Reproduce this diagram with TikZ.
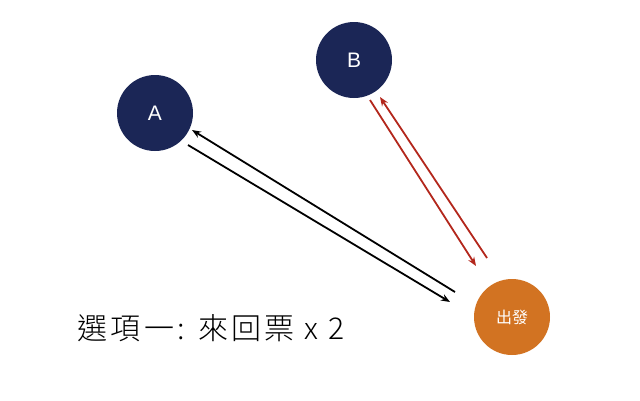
\documentclass[tikz,border=0pt]{standalone}
\usepackage{fontspec}
\setmainfont{Liberation Sans}
\newfontfamily\cjk[LetterSpace=11]{Noto Sans CJK TC Light}
\newfontfamily\cjkreg{Noto Sans CJK TC}
\usetikzlibrary{arrows.meta}
\definecolor{navy}{HTML}{1B2656}
\definecolor{amber}{HTML}{D27322}
\definecolor{brick}{HTML}{B3271C}
\begin{document}
\begin{tikzpicture}[x=1pt,y=-1pt,
dot/.style={circle, minimum size=76pt, inner sep=0pt, text=white, font=\fontsize{21}{24}\selectfont},
link/.style={line width=1.8pt, -{Stealth[length=9pt,width=7pt]}},
]
\useasboundingbox (0,0) rectangle (640,400);

\node[dot, fill=navy] (a) at (155,113) {A};
\node[dot, fill=navy] (b) at (354,60) {B};
\node[dot, fill=amber, font=\cjkreg\fontsize{16}{18}\selectfont] (go) at (512,317) {出發};
\node[font=\cjk\fontsize{30}{34}\selectfont, anchor=west] (opt) at (74,328) {選項一: 來回票 x 2};

\draw[link] ([shift={(-57,-25)}]go.center) -- ([shift={(37,17)}]a.center);
\draw[link] ([shift={(33,32)}]a.center) -- ([shift={(-62,-15)}]go.center);
\draw[link, brick] ([shift={(-25,-59)}]go.center) -- ([shift={(26,37)}]b.center);
\draw[link, brick] ([shift={(16,40)}]b.center) -- ([shift={(-36,-51)}]go.center);
\end{tikzpicture}
\end{document}
